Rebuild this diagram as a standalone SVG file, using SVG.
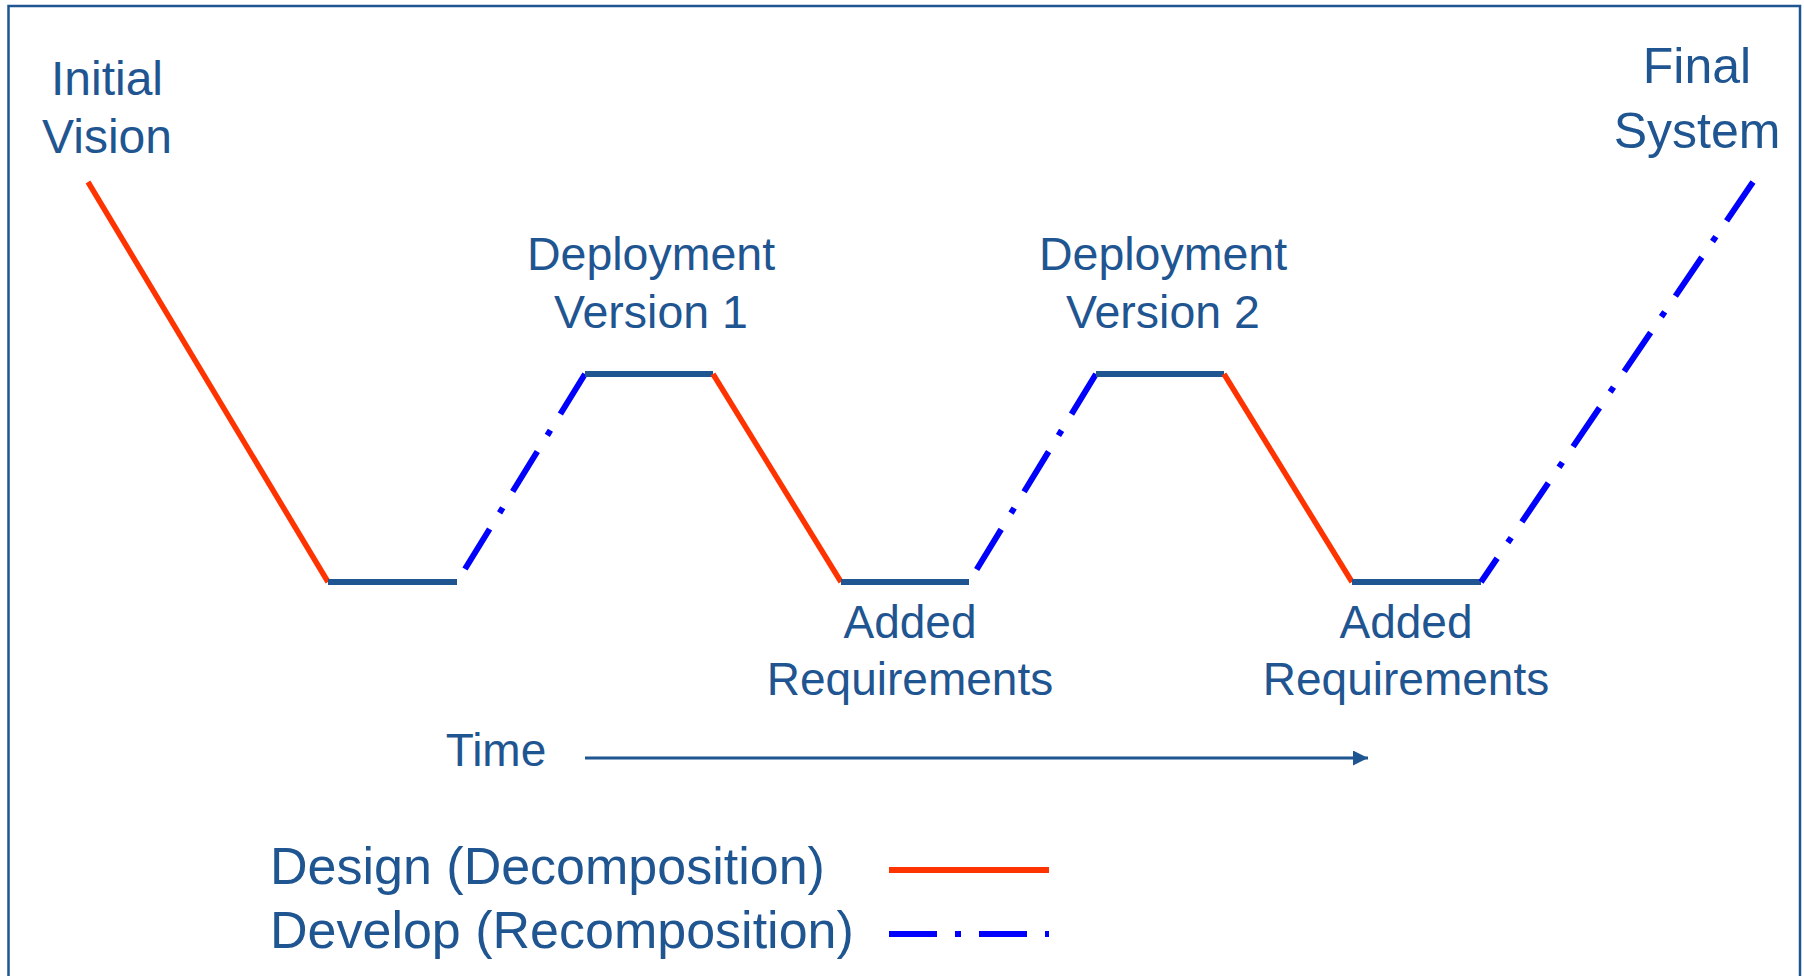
<svg xmlns="http://www.w3.org/2000/svg" width="1804" height="976" viewBox="0 0 1804 976">
<defs>
<style>
.t{font-family:"Liberation Sans",Arial,sans-serif;fill:#1F5591;text-anchor:middle}
.l{font-family:"Liberation Sans",Arial,sans-serif;fill:#1F5591;text-anchor:start;font-size:52px}
.red{stroke:#FF3300;stroke-width:5.5;fill:none;stroke-linecap:butt}
.blue{stroke:#0000FF;stroke-width:6;fill:none;stroke-dasharray:47 19 6 19;stroke-linecap:butt}
.flat{stroke:#1F5591;stroke-width:6;fill:none}
</style>
<marker id="arr" markerWidth="15" markerHeight="15" refX="15" refY="7.5" orient="auto" markerUnits="userSpaceOnUse">
<path d="M0,0 L15,7.5 L0,15 Z" fill="#1F5591"/>
</marker>
</defs>
<rect x="0" y="0" width="1804" height="976" fill="#FFFFFF"/>
<rect x="8.5" y="6" width="1791.5" height="1010" fill="none" stroke="#1F5591" stroke-width="2.5"/>

<g id="connectors">
<line class="red" x1="88" y1="182" x2="328" y2="582"/>
<line class="flat" x1="328" y1="582" x2="457" y2="582"/>
<line class="blue" x1="585" y1="374" x2="457" y2="582"/>
<line class="flat" x1="585" y1="374" x2="713" y2="374"/>
<line class="red" x1="713" y1="374" x2="841" y2="582"/>
<line class="flat" x1="841" y1="582" x2="969" y2="582"/>
<line class="blue" x1="1096" y1="374" x2="969" y2="582"/>
<line class="flat" x1="1096" y1="374" x2="1224" y2="374"/>
<line class="red" x1="1224" y1="374" x2="1352" y2="582"/>
<line class="flat" x1="1352" y1="582" x2="1481" y2="582"/>
<line class="blue" x1="1753" y1="182" x2="1481" y2="582"/>
<line x1="585" y1="758" x2="1368" y2="758" stroke="#1F5591" stroke-width="3" marker-end="url(#arr)"/>
</g>

<g id="initial-vision">
<text class="t" x="107" y="95" font-size="48">Initial</text>
<text class="t" x="107" y="153" font-size="48">Vision</text>
</g>
<g id="final-system">
<text class="t" x="1697" y="83" font-size="50">Final</text>
<text class="t" x="1697" y="148" font-size="50">System</text>
</g>
<g id="deployment-1">
<text class="t" x="651" y="270" font-size="46.5">Deployment</text>
<text class="t" x="651" y="328" font-size="46.5">Version 1</text>
</g>
<g id="deployment-2">
<text class="t" x="1163" y="270" font-size="46.5">Deployment</text>
<text class="t" x="1163" y="328" font-size="46.5">Version 2</text>
</g>
<g id="added-1">
<text class="t" x="910" y="638" font-size="46">Added</text>
<text class="t" x="910" y="695" font-size="46">Requirements</text>
</g>
<g id="added-2">
<text class="t" x="1406" y="638" font-size="46">Added</text>
<text class="t" x="1406" y="695" font-size="46">Requirements</text>
</g>
<g id="time">
<text class="t" x="496" y="766" font-size="46">Time</text>
</g>
<g id="legend">
<text class="l" x="270" y="884">Design (Decomposition)</text>
<text class="l" x="270" y="948">Develop (Recomposition)</text>
<line x1="889" y1="870" x2="1049" y2="870" stroke="#FF3300" stroke-width="6"/>
<line x1="889" y1="934" x2="1049" y2="934" stroke="#0000FF" stroke-width="6" stroke-dasharray="48 18 6 18"/>
</g>
</svg>
